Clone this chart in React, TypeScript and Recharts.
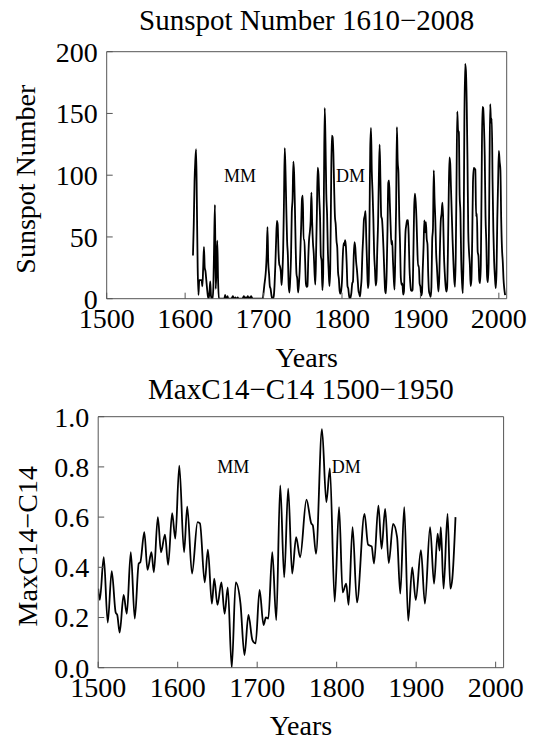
import React from 'react';
import { LineChart, Line, XAxis, YAxis, ReferenceDot } from 'recharts';

// ---------- DATA ----------
const sunspotTitle = 'Sunspot Number 1610\u22122008';
const sunspotYLabel = 'Sunspot Number';
const c14Title = 'MaxC14\u2212C14 1500\u22121950';
const c14YLabel = 'MaxC14\u2212C14';
const xLabel = 'Years';

const sunspotStartYear = 1610;
// annual values 1610..2008
const sunspotValues = [
  // 1610-1649
  35, 60, 95, 112, 121, 75, 25, 3, 15, 15,
  15, 15, 10, 25, 42, 25, 22, 15, 8, 2,
  0, 5, 14, 2, 0, 0, 10, 45, 76, 8,
  25, 47, 15, 0, 0, 0, 0, 0, 0, 0,
  // 1650-1699
  0, 3, 0, 0, 2, 0, 0, 0, 0, 0,
  1, 2, 0, 0, 1, 0, 0, 1, 0, 0,
  0, 0, 0, 0, 1, 2, 0, 1, 0, 1,
  2, 0, 1, 0, 2, 1, 0, 0, 0, 0,
  0, 0, 0, 0, 0, 0, 0, 0, 0, 0,
  // 1700-1749
  5, 11, 16, 23, 36, 58, 29, 20, 10, 8,
  3, 0, 0, 2, 11, 27, 47, 63, 60, 39,
  28, 26, 22, 11, 21, 40, 78, 122, 103, 73,
  47, 35, 11, 5, 16, 34, 70, 81, 111, 101,
  73, 40, 20, 16, 5, 11, 22, 40, 60, 80.9,
  // 1750-1799
  83.4, 47.7, 47.8, 30.7, 12.2, 9.6, 10.2, 32.4, 47.6, 54,
  62.9, 85.9, 61.2, 45.1, 36.4, 20.9, 11.4, 37.8, 69.8, 106.1,
  100.8, 81.6, 66.5, 34.8, 30.6, 7, 19.8, 92.5, 154.4, 125.9,
  84.8, 68.1, 38.5, 22.8, 10.2, 24.1, 82.9, 132, 130.9, 118.1,
  89.9, 66.6, 60, 46.9, 41, 21.3, 16, 6.4, 4.1, 6.8,
  // 1800-1849
  14.5, 34, 45, 43.1, 47.5, 42.2, 28.1, 10.1, 8.1, 2.5,
  0, 1.4, 5, 12.2, 13.9, 35.4, 45.8, 41.1, 30.1, 23.9,
  15.6, 6.6, 4, 1.8, 8.5, 16.6, 36.3, 49.6, 64.2, 67,
  70.9, 47.8, 27.5, 8.5, 13.2, 56.9, 121.5, 138.3, 103.2, 85.7,
  64.6, 36.7, 24.2, 10.7, 15, 40.1, 61.5, 98.5, 124.7, 96.3,
  // 1850-1899
  66.6, 64.5, 54.1, 39, 20.6, 6.7, 4.3, 22.7, 54.8, 93.8,
  95.8, 77.2, 59.1, 44, 47, 30.5, 16.3, 7.3, 37.6, 74,
  139, 111.2, 101.6, 66.2, 44.7, 17, 11.3, 12.4, 3.4, 6,
  32.3, 54.3, 59.7, 63.7, 63.5, 52.2, 25.4, 13.1, 6.8, 6.3,
  7.1, 35.6, 73, 85.1, 78, 64, 41.8, 26.2, 26.7, 12.1,
  // 1900-1949
  9.5, 2.7, 5, 24.4, 42, 63.5, 53.8, 62, 48.5, 43.9,
  18.6, 5.7, 3.6, 1.4, 9.6, 47.4, 57.1, 103.9, 80.6, 63.6,
  37.6, 26.1, 14.2, 5.8, 16.7, 44.3, 63.9, 69, 77.8, 64.9,
  35.7, 21.2, 11.1, 5.7, 8.7, 36.1, 79.7, 114.4, 109.6, 88.8,
  67.8, 47.5, 30.6, 16.3, 9.6, 33.2, 92.6, 151.6, 136.3, 134.7,
  // 1950-2008
  83.9, 69.4, 31.5, 13.9, 4.4, 38, 141.7, 190.2, 184.8, 159,
  112.3, 53.9, 37.6, 27.9, 10.2, 15.1, 47, 93.8, 105.9, 105.5,
  104.5, 66.6, 68.9, 38, 34.5, 15.5, 12.6, 27.5, 92.5, 155.4,
  154.6, 140.4, 115.9, 66.6, 45.9, 17.9, 13.4, 29.4, 100.2, 157.6,
  142.6, 145.7, 94.3, 54.6, 29.9, 17.5, 8.6, 21.5, 64.3, 93.3,
  119.6, 111, 104, 63.7, 40.4, 29.8, 15.2, 7.5, 2.9,
];

const c14Years = [
  1500, 1502, 1507, 1512, 1517, 1522, 1524, 1527, 1532, 1536,
  1541, 1546, 1551, 1553, 1558, 1562, 1567, 1570, 1575, 1579,
  1584, 1588, 1593, 1597, 1602, 1608, 1612, 1618, 1625, 1628,
  1634, 1638, 1643, 1646, 1650, 1655, 1659, 1663, 1668, 1673,
  1679, 1684, 1689, 1694, 1698, 1703, 1708, 1711, 1714, 1719,
  1724, 1729, 1734, 1739, 1744, 1749, 1754, 1762, 1768, 1770,
  1774, 1781.5, 1787, 1791.5, 1797.5, 1803, 1807.5, 1812, 1815, 1820,
  1825.5, 1835, 1839.5, 1844, 1847, 1852.5, 1856.5, 1861, 1865.5, 1871,
  1876, 1880, 1885, 1890, 1895, 1899.5, 1906, 1911, 1917.5, 1922.5,
  1927, 1929.5, 1931, 1934.5, 1939.5, 1943, 1945.5, 1949.5,
];
const c14Values = [
  0.315, 0.27, 0.44, 0.18, 0.385, 0.22, 0.21, 0.14, 0.29, 0.215,
  0.46, 0.196, 0.415, 0.42, 0.54, 0.39, 0.46, 0.38, 0.6, 0.46,
  0.53, 0.41, 0.616, 0.514, 0.805, 0.46, 0.642, 0.375, 0.58, 0.575,
  0.34, 0.47, 0.255, 0.355, 0.25, 0.34, 0.215, 0.32, 0.0, 0.34,
  0.255, 0.05, 0.21, 0.11, 0.097, 0.31, 0.17, 0.2, 0.196, 0.46,
  0.19, 0.726, 0.36, 0.713, 0.375, 0.52, 0.44, 0.67, 0.575, 0.567,
  0.454, 0.95, 0.66, 0.794, 0.263, 0.64, 0.3, 0.335, 0.25, 0.56,
  0.26, 0.613, 0.49, 0.483, 0.415, 0.646, 0.474, 0.633, 0.417, 0.573,
  0.52, 0.295, 0.64, 0.187, 0.4, 0.27, 0.468, 0.255, 0.56, 0.335,
  0.534, 0.467, 0.56, 0.315, 0.613, 0.315, 0.355, 0.6,
];

const xMajorTicks = [1500, 1600, 1700, 1800, 1900, 2000];
const xMinorTicks = [1520, 1540, 1560, 1580, 1620, 1640, 1660, 1680, 1720, 1740, 1760, 1780, 1820, 1840, 1860, 1880, 1920, 1940, 1960, 1980];
const sunspotMajorTicks = [0, 50, 100, 150, 200];
const sunspotMinorTicks = [10, 20, 30, 40, 60, 70, 80, 90, 110, 120, 130, 140, 160, 170, 180, 190];
const c14MajorTicks = [0, 0.2, 0.4, 0.6, 0.8, 1.0];
const c14MinorTicks = [0.05, 0.1, 0.15, 0.25, 0.3, 0.35, 0.45, 0.5, 0.55, 0.65, 0.7, 0.75, 0.85, 0.9, 0.95];

const annotations = ['MM', 'DM'];
const sunspotAnnotationX = [1670, 1811];
const sunspotAnnotationY = 100;
const c14AnnotationX = [1670, 1812];
const c14AnnotationY = 0.8;

// ---------- STYLE ----------
const FONT = '"Liberation Serif", "Times New Roman", serif';
const FRAME = '#555';
const W = 536;

type PanelProps = {
  top: number;
  height: number;
  plot: { left: number; right: number; top: number; bottom: number };
  data: { x: number; v: number }[];
  yDomain: [number, number];
  yMajor: number[];
  yMinor: number[];
  yFmt: (v: number) => string;
  title: string;
  titleY: number;
  yLabel: string;
  yLabelX: number;
  xLabelY: number;
  annX: number[];
  annY: number;
};

function Panel(p: PanelProps) {
  // each side carries two 1px axes (major + minor)
  const margin = {
    top: p.plot.top - 2,
    bottom: p.height - p.plot.bottom - 2,
    left: p.plot.left - 2,
    right: W - p.plot.right - 2,
  };
  const plotCx = (p.plot.left + p.plot.right) / 2;
  const plotCy = (p.plot.top + p.plot.bottom) / 2;
  const tickStyle = { fontSize: 28, fontFamily: FONT, fill: '#000' };
  const xDomain: [number, number] = [1500, 2010];
  const textProps = { fontSize: 28, fontFamily: FONT, fill: '#000' };
  return (
    <div style={{ position: 'absolute', left: 0, top: p.top, width: W, height: p.height }}>
      <LineChart width={W} height={p.height} data={p.data} margin={margin}>
        <XAxis
          xAxisId="x"
          type="number"
          dataKey="x"
          domain={xDomain}
          allowDataOverflow
          ticks={xMajorTicks}
          interval={0}
          height={1}
          tick={tickStyle}
          tickSize={-6}
          tickMargin={15.5}
          axisLine={{ stroke: FRAME }}
          tickLine={{ stroke: FRAME }}
          label={() => (
            <text x={plotCx} y={p.xLabelY} textAnchor="middle" dominantBaseline="central" {...textProps}>
              {xLabel}
            </text>
          )}
        />
        <XAxis
          xAxisId="xm"
          type="number"
          dataKey="x"
          domain={xDomain}
          allowDataOverflow
          ticks={xMinorTicks}
          interval={0}
          height={1}
          tick={false}
          axisLine={false}
          tickSize={-4}
          tickLine={{ stroke: FRAME }}
        />
        <XAxis
          xAxisId="xt"
          orientation="top"
          type="number"
          dataKey="x"
          domain={xDomain}
          allowDataOverflow
          ticks={xMajorTicks}
          interval={0}
          height={1}
          tick={false}
          tickSize={-6}
          axisLine={{ stroke: FRAME }}
          tickLine={{ stroke: FRAME }}
          label={() => (
            <text x={plotCx} y={p.titleY} textAnchor="middle" dominantBaseline="central" {...textProps} fontSize={29}>
              {p.title}
            </text>
          )}
        />
        <XAxis
          xAxisId="xtm"
          orientation="top"
          type="number"
          dataKey="x"
          domain={xDomain}
          allowDataOverflow
          ticks={xMinorTicks}
          interval={0}
          height={1}
          tick={false}
          axisLine={false}
          tickSize={-4}
          tickLine={{ stroke: FRAME }}
        />
        <YAxis
          yAxisId="y"
          type="number"
          domain={p.yDomain}
          allowDataOverflow
          ticks={p.yMajor}
          interval={0}
          width={1}
          tick={tickStyle}
          tickFormatter={p.yFmt}
          tickSize={-6}
          tickMargin={15}
          axisLine={{ stroke: FRAME }}
          tickLine={{ stroke: FRAME }}
          label={() => (
            <text
              x={p.yLabelX}
              y={plotCy + 4}
              transform={`rotate(-90 ${p.yLabelX} ${plotCy + 4})`}
              textAnchor="middle"
              dominantBaseline="central"
              {...textProps}
            >
              {p.yLabel}
            </text>
          )}
        />
        <YAxis
          yAxisId="ym"
          type="number"
          domain={p.yDomain}
          allowDataOverflow
          ticks={p.yMinor}
          interval={0}
          width={1}
          tick={false}
          axisLine={false}
          tickSize={-4}
          tickLine={{ stroke: FRAME }}
        />
        <YAxis
          yAxisId="yr"
          orientation="right"
          type="number"
          domain={p.yDomain}
          allowDataOverflow
          ticks={p.yMajor}
          interval={0}
          width={1}
          tick={false}
          tickSize={-6}
          axisLine={{ stroke: FRAME }}
          tickLine={{ stroke: FRAME }}
        />
        <YAxis
          yAxisId="yrm"
          orientation="right"
          type="number"
          domain={p.yDomain}
          allowDataOverflow
          ticks={p.yMinor}
          interval={0}
          width={1}
          tick={false}
          axisLine={false}
          tickSize={-4}
          tickLine={{ stroke: FRAME }}
        />
        <Line
          xAxisId="x"
          yAxisId="y"
          type="monotone"
          dataKey="v"
          stroke="#000"
          strokeWidth={1.8}
          dot={false}
          isAnimationActive={false}
        />
        {annotations.map((a, i) => (
          <ReferenceDot
            key={a}
            xAxisId="x"
            yAxisId="y"
            x={p.annX[i]}
            y={p.annY}
            r={0}
            fill="none"
            stroke="none"
            label={{ value: a, position: 'center', fontSize: 18, fontFamily: FONT, fill: '#000' }}
          />
        ))}
      </LineChart>
    </div>
  );
}

export default function App() {
  const sunspotData = sunspotValues.map((v, i) => ({ x: sunspotStartYear + i, v }));
  const c14Data = c14Years.map((x, i) => ({ x, v: c14Values[i] }));
  return (
    <div style={{ position: 'absolute', left: 0, top: 0, width: 536, height: 741, background: '#fff' }}>
      <Panel
        top={0}
        height={380}
        plot={{ left: 106.7, right: 506.7, top: 51.7, bottom: 298.7 }}
        data={sunspotData}
        yDomain={[0, 200]}
        yMajor={sunspotMajorTicks}
        yMinor={sunspotMinorTicks}
        yFmt={(v) => String(v)}
        title={sunspotTitle}
        titleY={20}
        yLabel={sunspotYLabel}
        yLabelX={25.6}
        xLabelY={357.5}
        annX={sunspotAnnotationX}
        annY={sunspotAnnotationY}
      />
      <Panel
        top={370}
        height={371}
        plot={{ left: 98.2, right: 503.6, top: 46.7, bottom: 297.7 }}
        data={c14Data}
        yDomain={[0, 1]}
        yMajor={c14MajorTicks}
        yMinor={c14MinorTicks}
        yFmt={(v) => v.toFixed(1)}
        title={c14Title}
        titleY={18.5}
        yLabel={c14YLabel}
        yLabelX={27.4}
        xLabelY={355}
        annX={c14AnnotationX}
        annY={c14AnnotationY}
      />
    </div>
  );
}
